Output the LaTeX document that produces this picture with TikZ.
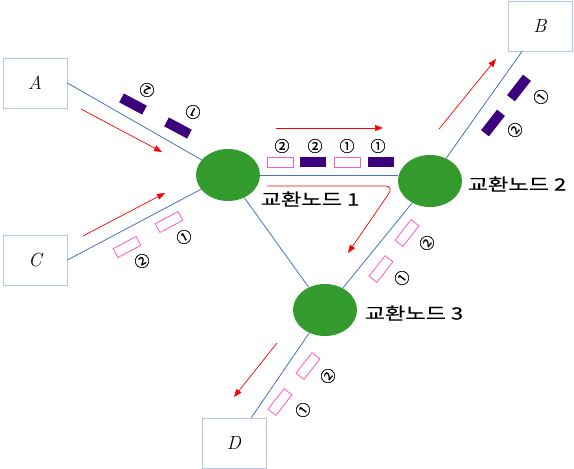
\documentclass[tikz,border=0pt]{standalone}
\usepackage{fontspec}
\newfontfamily\krfont{Noto Sans CJK KR}[FakeStretch=1.3,FakeBold=0.3]
\newfontfamily\numfont{Noto Sans CJK KR}[FakeBold=0.5]
\usetikzlibrary{shapes.geometric,arrows.meta}
\definecolor{linkblue}{RGB}{68,114,196}
\definecolor{boxblue}{RGB}{180,198,231}
\definecolor{nodegreen}{RGB}{51,155,45}
\definecolor{pktpurple}{RGB}{60,0,125}
\definecolor{pktpink}{RGB}{255,90,190}
\begin{document}
\begin{tikzpicture}[x=1pt,y=-1pt,
 endbox/.style={draw=boxblue, line width=0.8pt, fill=white, minimum width=64pt, minimum height=50pt, inner sep=0pt, font=\fontsize{19}{19}\selectfont\itshape},
 switch/.style={ellipse, fill=nodegreen, minimum width=64pt, minimum height=52pt, inner sep=0pt},
 link/.style={draw=linkblue, line width=0.8pt},
 flow/.style={draw=red, line width=0.7pt, -{Triangle[length=8pt,width=6pt]}},
 pkfull/.style={fill=pktpurple, minimum width=26pt, minimum height=10pt, inner sep=0pt},
 pkempty/.style={draw=pktpink, line width=0.8pt, fill=white, minimum width=26pt, minimum height=10pt, inner sep=0pt},
 num/.style={font=\numfont\fontsize{15}{15}\selectfont, inner sep=0pt},
 krlabel/.style={font=\krfont\fontsize{17}{17}\selectfont, inner sep=0pt}]
\useasboundingbox (0,0) rectangle (574,469);

% end systems
\node[endbox] (A) at (35,83) {A};
\node[endbox] (C) at (35,260) {C};
\node[endbox] (B) at (540,26) {B};
\node[endbox] (D) at (234,443) {D};

% switching nodes
\node[switch] (n1) at (228,175) {};
\node[switch] (n2) at (430,181) {};
\node[switch] (n3) at (325,310) {};
\node[krlabel] (l1) at (310,199) {교환노드 1};
\node[krlabel] (l2) at (517,184) {교환노드 2};
\node[krlabel] (l3) at (414,313) {교환노드 3};

% links
\draw[link] (A.east) -- (n1);
\draw[link] (C.east) -- (n1);
\draw[link] (n1.east) -- (n1.east -| n2.west);
\draw[link] (n1) -- (n3);
\draw[link] (n2) -- (n3);
\draw[link] (n2) -- (B);
\draw[link] (n3) -- (D);

% flow arrows
\coordinate (fa1) at (81,109);  \coordinate (fa2) at (162,152);
\coordinate (fc1) at (83,236);  \coordinate (fc2) at (165,193);
\coordinate (ft1) at (276,128); \coordinate (ft2) at (383,128);
\coordinate (fb1) at (439,129); \coordinate (fb2) at (496,59);
\coordinate (fk1) at (267,186); \coordinate (fk2) at (394,186); \coordinate (fk3) at (348,253);
\coordinate (fd1) at (277,343); \coordinate (fd2) at (234,397);
\draw[flow] (fa1) -- (fa2);
\draw[flow] (fc1) -- (fc2);
\draw[flow] (ft1) -- (ft2);
\draw[flow] (fb1) -- (fb2);
\draw[flow, rounded corners=9pt] (fk1) -- (fk2) -- (fk3);
\draw[flow] (fd1) -- (fd2);

% packets on A link
\node[pkfull, rotate=-28] (pa2) at (133,104) {};
\node[pkfull, rotate=-28] (pa1) at (178,128) {};
\node[num, rotate=152] (na2) at (147,90) {②};
\node[num, rotate=152] (na1) at (193,112) {①};

% packets on C link
\node[pkempty, rotate=28] (pc1) at (169,222) {};
\node[pkempty, rotate=28] (pc2) at (127,247) {};
\node[num, rotate=28] (nc1) at (184,237) {①};
\node[num, rotate=28] (nc2) at (142,261) {②};

% packets on link 1-2
\node[pkempty] (pt1) at (280,162) {};
\node[pkfull]  (pt2) at (313,162) {};
\node[pkempty] (pt3) at (347,162) {};
\node[pkfull]  (pt4) at (381,162) {};
\node[num] (nt1) at (282,146) {②};
\node[num] (nt2) at (315,146) {②};
\node[num] (nt3) at (347,146) {①};
\node[num] (nt4) at (378,146) {①};

% packets on B link
\node[pkfull, rotate=52] (pb1) at (519,88) {};
\node[pkfull, rotate=52] (pb2) at (493,123) {};
\node[num, rotate=52] (nb1) at (541,97) {①};
\node[num, rotate=52] (nb2) at (515,130) {②};

% packets on link 2-3
\node[pkempty, rotate=52] (pm2) at (407,233) {};
\node[pkempty, rotate=52] (pm1) at (381,269) {};
\node[num, rotate=52] (nm2) at (427,243) {②};
\node[num, rotate=52] (nm1) at (402,278) {①};

% packets on D link
\node[pkempty, rotate=52] (pd2) at (308,366) {};
\node[pkempty, rotate=52] (pd1) at (280,402) {};
\node[num, rotate=52] (nd2) at (328,376) {②};
\node[num, rotate=52] (nd1) at (303,410) {①};
\end{tikzpicture}
\end{document}
